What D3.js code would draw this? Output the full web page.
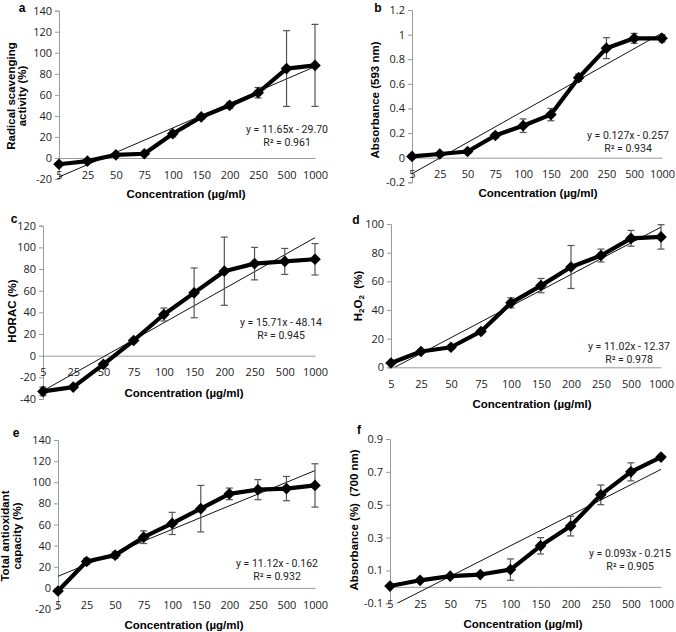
<!DOCTYPE html>
<html>
<head>
<meta charset="utf-8">
<script src="https://cdn.jsdelivr.net/npm/d3@7"></script>
<style>
  html, body { margin: 0; padding: 0; background: #fff; }
  svg { display: block; }
</style>
</head>
<body>
<svg id="chart" width="676" height="632"></svg>
<script>
// ---------- DATA ----------
const categories = ["5", "25", "50", "75", "100", "150", "200", "250", "500", "1000"];

const aValues = [-6, -3, 3, 4, 23, 39, 50, 62, 85, 88];
const aErrors = [1, 1, 1, 1, 3, 2, 3, 5, 36, 39];
const aTicks = [-20, 0, 20, 40, 60, 80, 100, 120, 140];
const aTrend = [11.65, -29.70];

const bValues = [0.01, 0.03, 0.05, 0.18, 0.26, 0.35, 0.65, 0.89, 0.97, 0.97];
const bErrors = [0.01, 0.01, 0.01, 0.02, 0.055, 0.05, 0.03, 0.085, 0.04, 0.03];
const bTicks = [-0.2, 0, 0.2, 0.4, 0.6, 0.8, 1, 1.2];
const bTrend = [0.127, -0.257];

const cValues = [-33, -29, -8, 14, 38, 58, 78, 85, 87, 89];
const cErrors = [4, 1, 2, 2, 6, 23, 31.5, 15, 12, 14.5];
const cTicks = [-40, -20, 0, 20, 40, 60, 80, 100, 120];
const cTrend = [15.71, -48.14];

const dValues = [3, 11, 14, 25, 45, 57, 70, 78, 90, 91];
const dErrors = [1, 1, 1, 1, 3.5, 5, 15, 4.5, 5.5, 8.5];
const dTicks = [0, 20, 40, 60, 80, 100];
const dTrend = [11.02, -12.37];

const eValues = [-3, 25, 31, 48, 61, 75, 89, 93, 94, 97];
const eErrors = [1, 3, 3, 6, 10.5, 22, 5.5, 9.5, 11.5, 20.5];
const eTicks = [-20, 0, 20, 40, 60, 80, 100, 120, 140];
const eTrend = [11.12, -0.162];

const fValues = [0.005, 0.04, 0.065, 0.075, 0.105, 0.25, 0.37, 0.56, 0.70, 0.79];
const fErrors = [0.005, 0.01, 0.01, 0.01, 0.065, 0.05, 0.06, 0.06, 0.055, 0.01];
const fTicks = [-0.1, 0.1, 0.3, 0.5, 0.7, 0.9];
const fTrend = [0.093, -0.215];

const panelLetters = ["a", "b", "c", "d", "e", "f"];
const xTitle = "Concentration (µg/ml)";
const equations = [
  ["y = 11.65x - 29.70", "R² = 0.961"],
  ["y = 0.127x - 0.257", "R² = 0.934"],
  ["y = 15.71x - 48.14", "R² = 0.945"],
  ["y = 11.02x - 12.37", "R² = 0.978"],
  ["y = 11.12x - 0.162", "R² = 0.932"],
  ["y = 0.093x - 0.215", "R² = 0.905"]
];
const yTitles = [
  ["Radical scavenging", "activity (%)"],
  ["Absorbance (593 nm)"],
  ["HORAC (%)"],
  ["H2O2\u00a0\u00a0(%)"],
  ["Total antioxidant", "capacity (%)"],
  ["Absorbance (%)\u00a0\u00a0(700 nm)"]
];

// ---------- LAYOUT ----------
const panels = [
  { v: aValues, e: aErrors, t: aTicks, tr: aTrend, dom: [-20, 140], x0: 59, x1: 315, yT: 10.7, yB: 179,
    fmt: d => d, letter: [22, 8], xt: [186, 194], yt: [[11, 96], [22, 96]], eq: [287, 129] },
  { v: bValues, e: bErrors, t: bTicks, tr: bTrend, dom: [-0.2, 1.2], x0: 412, x1: 662, yT: 10, yB: 182.3,
    fmt: d => (Math.round(d * 10) / 10).toString(), letter: [378, 8], xt: [538, 193], yt: [[375, 100]], eq: [628, 135] },
  { v: cValues, e: cErrors, t: cTicks, tr: cTrend, dom: [-40, 120], x0: 43, x1: 315, yT: 225.7, yB: 399,
    fmt: d => d, letter: [14, 219], xt: [184, 393], yt: [[12, 311]], eq: [281, 322] },
  { v: dValues, e: dErrors, t: dTicks, tr: dTrend, dom: [0, 100], x0: 391, x1: 661, yT: 224, yB: 367.3,
    fmt: d => d, letter: [356, 220], xt: [532, 404], yt: [[358, 296]], eq: [629, 346] },
  { v: eValues, e: eErrors, t: eTicks, tr: eTrend, dom: [-20, 140], x0: 58, x1: 315, yT: 440, yB: 609,
    fmt: d => d, letter: [16, 433], xt: [184, 625], yt: [[5, 536], [17, 536]], eq: [277, 563] },
  { v: fValues, e: fErrors, t: fTicks, tr: fTrend, dom: [-0.1, 0.9], x0: 390, x1: 661, yT: 439, yB: 603.3,
    fmt: d => (Math.round(d * 10) / 10).toString(), letter: [359, 430], xt: [523, 624], yt: [[354, 520]], eq: [630, 553] }
];

const svg = d3.select("#chart");
const tickFont = "'Open Sans', 'Liberation Sans', sans-serif";
const eqFont = "Roboto, 'Liberation Sans', sans-serif";
const boldFont = "'Liberation Sans', Arial, sans-serif";

panels.forEach((p, i) => {
  const g = svg.append("g");
  const x = d3.scalePoint().domain(categories).range([p.x0, p.x1]);
  const y = d3.scaleLinear().domain(p.dom).range([p.yB, p.yT]);

  const clipId = "clip" + i;
  svg.append("clipPath").attr("id", clipId).append("rect")
    .attr("x", p.x0).attr("y", p.yT).attr("width", p.x1 - p.x0 + 2).attr("height", p.yB - p.yT);

  // y axis
  const yAxis = d3.axisLeft(y).tickValues(p.t).tickSize(4).tickFormat(p.fmt);
  const ya = g.append("g").attr("transform", `translate(${p.x0},0)`).call(yAxis);
  ya.select(".domain").attr("stroke", "#9a9a9a");
  ya.selectAll(".tick line").attr("stroke", "#9a9a9a");
  ya.selectAll(".tick text").attr("font-family", tickFont).attr("font-size", 11).attr("fill", "#222").attr("x", -7);

  // x axis line at zero
  const xAxis = d3.axisBottom(x).tickSize(0).tickPadding(13);
  const xa = g.append("g").attr("transform", `translate(0,${y(0)})`).call(xAxis);
  xa.select(".domain").attr("stroke", "#9a9a9a");
  xa.selectAll(".tick text").attr("font-family", tickFont).attr("font-size", 11).attr("fill", "#222");

  // linear trend line
  const trendFn = k => p.tr[0] * k + p.tr[1];
  g.append("line")
    .attr("clip-path", `url(#${clipId})`)
    .attr("x1", x(categories[0])).attr("y1", y(trendFn(1)))
    .attr("x2", x(categories[categories.length - 1])).attr("y2", y(trendFn(categories.length)))
    .attr("stroke", "#111").attr("stroke-width", 1);

  const data = categories.map((c, j) => ({ c, v: p.v[j], e: p.e[j] }));

  // error bars
  const eb = g.append("g").attr("stroke", "#555").attr("stroke-width", 1.2);
  data.forEach(d => {
    const cx = x(d.c);
    eb.append("line").attr("x1", cx).attr("x2", cx).attr("y1", y(d.v - d.e)).attr("y2", y(d.v + d.e));
    eb.append("line").attr("x1", cx - 3.5).attr("x2", cx + 3.5).attr("y1", y(d.v - d.e)).attr("y2", y(d.v - d.e));
    eb.append("line").attr("x1", cx - 3.5).attr("x2", cx + 3.5).attr("y1", y(d.v + d.e)).attr("y2", y(d.v + d.e));
  });

  // main line
  g.append("path").datum(data)
    .attr("d", d3.line().x(d => x(d.c)).y(d => y(d.v)))
    .attr("fill", "none").attr("stroke", "#000").attr("stroke-width", 4.2).attr("stroke-linejoin", "round");

  // diamond markers
  const sym = d3.symbol().type(d3.symbolSquare).size(68);
  g.selectAll(".mk").data(data).enter().append("path")
    .attr("d", sym)
    .attr("transform", d => `translate(${x(d.c)},${y(d.v)}) rotate(45)`)
    .attr("fill", "#000");

  // equation
  g.append("text").attr("font-family", eqFont).attr("font-size", 10.5).attr("fill", "#222")
    .attr("text-anchor", "middle").attr("x", p.eq[0]).attr("y", p.eq[1] + 4).text(equations[i][0]);
  g.append("text").attr("font-family", eqFont).attr("font-size", 10.5).attr("fill", "#222")
    .attr("text-anchor", "middle").attr("x", p.eq[0]).attr("y", p.eq[1] + 4 + 13).text(equations[i][1]);

  // x title
  g.append("text").attr("x", p.xt[0]).attr("y", p.xt[1] + 4)
    .attr("text-anchor", "middle").attr("font-family", boldFont).attr("font-weight", "bold")
    .attr("font-size", 11.5).attr("fill", "#000").text(xTitle);

  // y title
  yTitles[i].forEach((line, k) => {
    const pos = p.yt[k];
    const t = g.append("text")
      .attr("transform", `translate(${pos[0]},${pos[1]}) rotate(-90)`)
      .attr("text-anchor", "middle").attr("dominant-baseline", "central")
      .attr("font-family", boldFont).attr("font-weight", "bold")
      .attr("font-size", 11.5).attr("fill", "#000");
    if (line.startsWith("H2O2")) {
      t.append("tspan").text("H");
      t.append("tspan").attr("font-size", 8).attr("dy", 3).text("2");
      t.append("tspan").attr("dy", -3).text("O");
      t.append("tspan").attr("font-size", 8).attr("dy", 3).text("2");
      t.append("tspan").attr("dy", -3).text(line.slice(4));
    } else {
      t.text(line);
    }
  });

  // panel letter
  g.append("text").attr("x", p.letter[0]).attr("y", p.letter[1] + 4)
    .attr("text-anchor", "middle").attr("font-family", boldFont).attr("font-weight", "bold")
    .attr("font-size", 12).attr("fill", "#000").text(panelLetters[i]);
});
</script>
</body>
</html>
